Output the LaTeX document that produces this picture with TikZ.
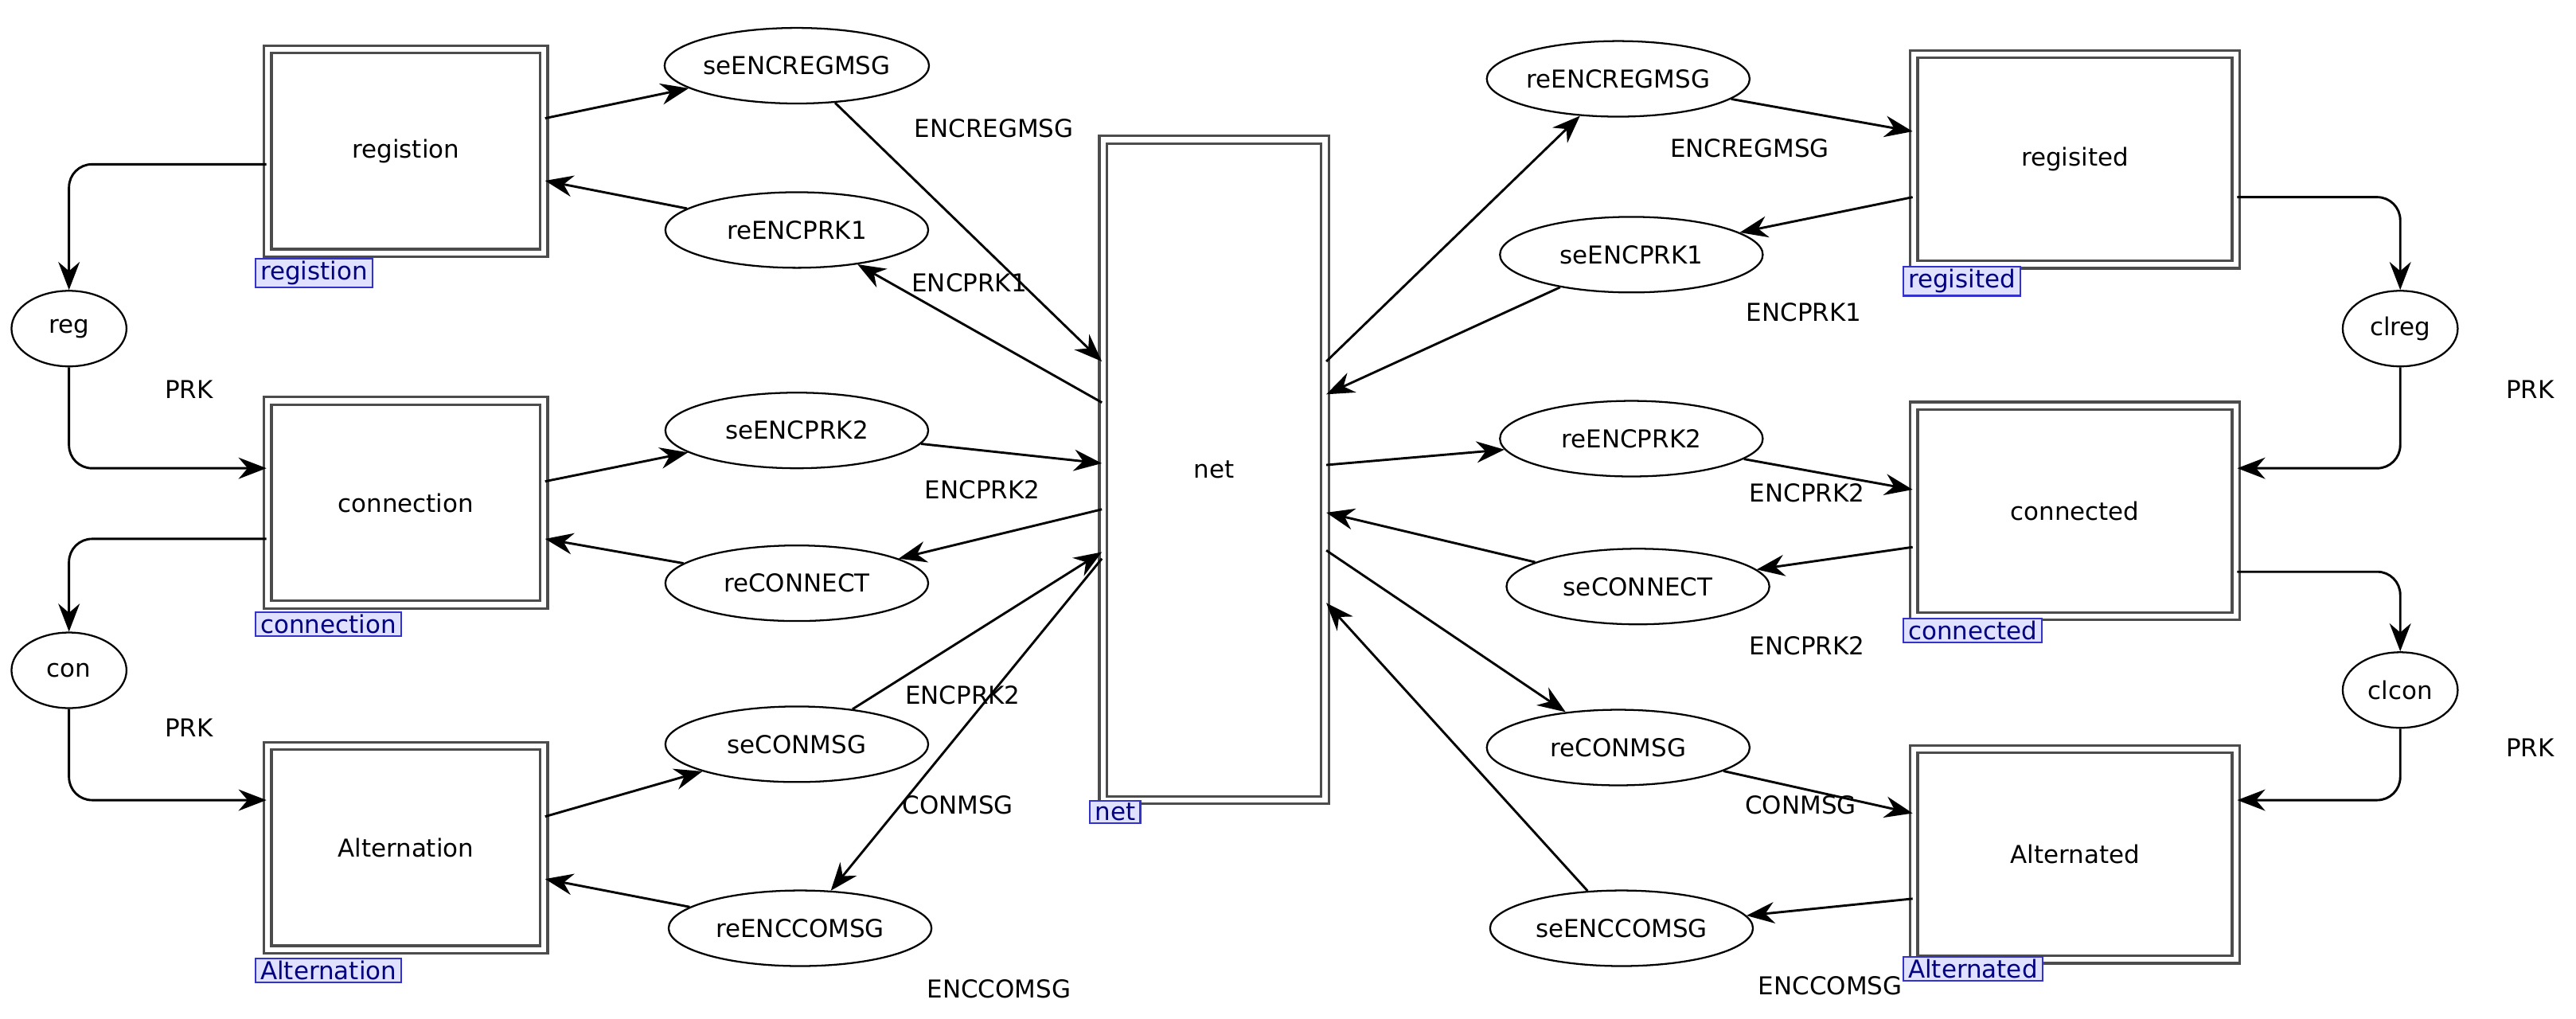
\documentclass[tikz,border=0pt]{standalone}
\usepackage{fontspec}
\setmainfont{DejaVu Sans}
\usetikzlibrary{arrows.meta,shapes.geometric}
\begin{document}
\begin{tikzpicture}[x=1pt,y=-1pt,
  every node/.style={font=\fontsize{15}{17}\selectfont},
  trans/.style={draw=gray!60!black,line width=1.6pt,double=white,double distance=3pt,minimum width=168pt,minimum height=124pt,inner sep=0pt},
  place/.style={draw,ellipse,line width=1.1pt,minimum width=160pt,minimum height=46pt,inner sep=0pt},
  small/.style={draw,ellipse,line width=1.1pt,minimum width=70pt,minimum height=46pt,inner sep=0pt},
  tag/.style={draw=blue!60!gray,line width=1pt,fill=blue!12,text=blue!50!black,inner xsep=3pt,inner ysep=1.5pt,font=\fontsize{15}{16}\selectfont,anchor=north west},
  lab/.style={inner sep=1pt},
  arc/.style={line width=1.4pt,-{Stealth[length=17pt,width=13pt]}},
  rc/.style={arc,rounded corners=14pt}]
\useasboundingbox (0,0) rectangle (1568,620);
% transitions
\node[trans] (registion) at (247,92) {registion};
\node[trans] (connection) at (247,306) {connection};
\node[trans] (Alternation) at (247,516) {Alternation};
\node[trans,minimum width=135pt,minimum height=402pt] (net) at (739,286) {net};
\node[trans,minimum width=196pt,minimum height=128pt] (regisited) at (1263,97) {regisited};
\node[trans,minimum width=196pt,minimum height=128pt] (connected) at (1263,311) {connected};
\node[trans,minimum width=196pt,minimum height=128pt] (Alternated) at (1263,520) {Alternated};
% tags
\node[tag] (t1) at (155,157) {registion};
\node[tag] (t2) at (155,372) {connection};
\node[tag] (t3) at (155,583) {Alternation};
\node[tag] (t4) at (663,487) {net};
\node[tag] (t5) at (1158,162) {regisited};
\node[tag] (t6) at (1158,376) {connected};
\node[tag] (t7) at (1158,582) {Alternated};
% places
\node[place] (seENCREGMSG) at (485,40) {seENCREGMSG};
\node[place] (reENCPRK1) at (485,140) {reENCPRK1};
\node[small] (reg) at (42,200) {reg};
\node[place] (seENCPRK2) at (485,262) {seENCPRK2};
\node[place] (reCONNECT) at (485,355) {reCONNECT};
\node[small] (con) at (42,408) {con};
\node[place] (seCONMSG) at (485,453) {seCONMSG};
\node[place] (reENCCOMSG) at (487,565) {reENCCOMSG};
\node[place] (reENCREGMSG) at (985,48) {reENCREGMSG};
\node[place] (seENCPRK1) at (993,155) {seENCPRK1};
\node[small] (clreg) at (1461,200) {clreg};
\node[place] (reENCPRK2) at (993,267) {reENCPRK2};
\node[place] (seCONNECT) at (997,357) {seCONNECT};
\node[small] (clcon) at (1461,420) {clcon};
\node[place] (reCONMSG) at (985,455) {reCONMSG};
\node[place] (seENCCOMSG) at (987,565) {seENCCOMSG};
% left arcs
\draw[arc] ([yshift=20pt]registion.east) -- (seENCREGMSG);
\draw[arc] (reENCPRK1) -- ([yshift=-18pt]registion.east);
\draw[arc] (seENCREGMSG) -- ([yshift=66pt]net.west);
\draw[arc] ([yshift=41pt]net.west) -- (reENCPRK1);
\draw[rc] ([yshift=-8pt]registion.west) -| (reg);
\draw[rc] (reg) |- ([yshift=21pt]connection.west);
\draw[arc] ([yshift=13pt]connection.east) -- (seENCPRK2);
\draw[arc] (reCONNECT) -- ([yshift=-22pt]connection.east);
\draw[arc] (seENCPRK2) -- ([yshift=4pt]net.west);
\draw[arc] ([yshift=-24pt]net.west) -- (reCONNECT);
\draw[rc] ([yshift=-22pt]connection.west) -| (con);
\draw[rc] (con) |- ([yshift=29pt]Alternation.west);
\draw[arc] ([yshift=19pt]Alternation.east) -- (seCONMSG);
\draw[arc] (reENCCOMSG) -- ([yshift=-19pt]Alternation.east);
\draw[arc] (seCONMSG) -- ([yshift=-50pt]net.west);
\draw[arc] ([yshift=-54pt]net.west) -- (reENCCOMSG);
% right arcs
\draw[arc] ([yshift=66pt]net.east) -- (reENCREGMSG);
\draw[arc] (reENCREGMSG) -- ([yshift=17pt]regisited.west);
\draw[arc] ([yshift=-23pt]regisited.west) -- (seENCPRK1);
\draw[arc] (seENCPRK1) -- ([yshift=46pt]net.east);
\draw[rc] ([yshift=-23pt]regisited.east) -| (clreg);
\draw[rc] (clreg) |- ([yshift=26pt]connected.west -| connected.east);
\draw[arc] ([yshift=3pt]net.east) -- (reENCPRK2);
\draw[arc] (reENCPRK2) -- ([yshift=13pt]connected.west);
\draw[arc] ([yshift=-22pt]connected.west) -- (seCONNECT);
\draw[arc] (seCONNECT) -- ([yshift=-26pt]net.east);
\draw[rc] ([yshift=-37pt]connected.east) -| (clcon);
\draw[rc] (clcon) |- ([yshift=33pt]Alternated.east);
\draw[arc] ([yshift=-49pt]net.east) -- (reCONMSG);
\draw[arc] (reCONMSG) -- ([yshift=25pt]Alternated.west);
\draw[arc] ([yshift=-27pt]Alternated.west) -- (seENCCOMSG);
\draw[arc] (seENCCOMSG) -- ([yshift=-81pt]net.east);
% labels
\node[lab] (l1) at (605,78) {ENCREGMSG};
\node[lab] (l2) at (590,172) {ENCPRK1};
\node[lab] (l3) at (115,237) {PRK};
\node[lab] (l4) at (598,298) {ENCPRK2};
\node[lab] (l5) at (115,443) {PRK};
\node[lab] (l6) at (586,423) {ENCPRK2};
\node[lab] (l7) at (583,490) {CONMSG};
\node[lab] (l8) at (608,602) {ENCCOMSG};
\node[lab] (l9) at (1065,90) {ENCREGMSG};
\node[lab] (l10) at (1098,190) {ENCPRK1};
\node[lab] (l11) at (1540,237) {PRK};
\node[lab] (l12) at (1100,300) {ENCPRK2};
\node[lab] (l13) at (1100,393) {ENCPRK2};
\node[lab] (l14) at (1540,455) {PRK};
\node[lab] (l15) at (1096,490) {CONMSG};
\node[lab] (l16) at (1114,600) {ENCCOMSG};
\end{tikzpicture}
\end{document}
